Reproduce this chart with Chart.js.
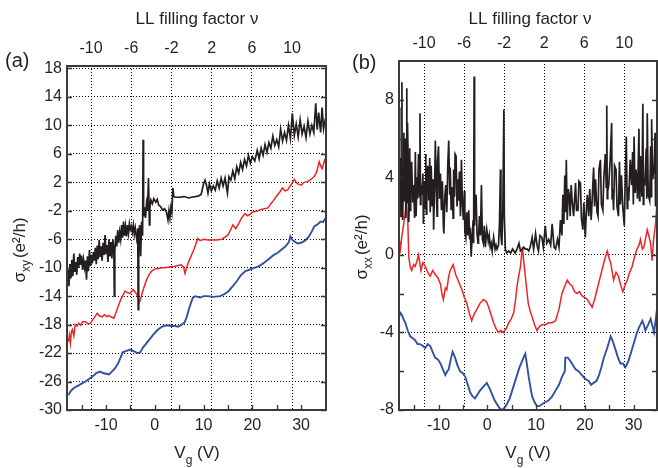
<!DOCTYPE html>
<html>
<head>
<meta charset="utf-8">
<script src="https://cdn.jsdelivr.net/npm/chart.js@4.4.1/dist/chart.umd.min.js"></script>
<style>
  html, body { margin: 0; padding: 0; background: #fff; }
  #wrap { position: relative; width: 658px; height: 468px; overflow: hidden; }
  canvas { position: absolute; top: 0; }
  #cA { left: 0; }
  #cB { left: 329px; }
</style>
</head>
<body>
<div id="wrap">
  <canvas id="cA" width="329" height="468"></canvas>
  <canvas id="cB" width="329" height="468"></canvas>
</div>
<script>
const FONT = '"Liberation Sans", Arial, sans-serif';
const INK = '#231f20';
const RED = '#ee2326';
const BLUE = '#3150a0';

// tick values
const nuTicks = [-10, -6, -2, 2, 6, 10];
const vgTicks = [-15, -10, -5, 0, 5, 10, 15, 20, 25, 30];
const sxyTicks = [-30, -26, -22, -18, -14, -10, -6, -2, 2, 6, 10, 14, 18];
const sxxTicks = [-8, -6, -4, -2, 0, 2, 4, 6, 8];

// panel (a): sigma_xy, [Vg, value]
const blackA = [[-17.7,-10.3],[-17.6,-12.6],[-17.4,-9.5],[-17.2,-11.5],[-17.0,-8.9],[-16.8,-11.2],[-16.6,-8.0],[-16.4,-10.6],[-16.2,-9.2],[-16.0,-11.0],
  [-15.8,-8.5],[-15.6,-10.0],[-15.4,-8.0],[-15.2,-9.6],[-15.0,-8.3],[-14.8,-10.3],[-14.6,-8.9],[-14.4,-10.0],[-14.2,-9.0],[-14.0,-11.7],
  [-13.8,-8.4],[-13.6,-10.5],[-13.4,-7.5],[-13.2,-9.8],[-13.0,-8.2],[-12.8,-9.4],[-12.6,-7.8],[-12.4,-9.0],[-12.2,-7.2],[-12.0,-9.5],
  [-11.8,-6.9],[-11.6,-8.8],[-11.4,-6.1],[-11.2,-8.5],[-11.0,-7.0],[-10.8,-9.0],[-10.6,-6.5],[-10.4,-8.2],[-10.2,-5.4],[-10.0,-8.0],
  [-9.8,-6.8],[-9.6,-9.2],[-9.4,-6.0],[-9.2,-8.4],[-9.0,-6.4],[-8.8,-8.7],[-8.6,-6.0],[-8.4,-7.5],[-8.3,-14.0],[-8.2,-7.8],
  [-8.0,-5.5],[-7.8,-7.0],[-7.6,-4.7],[-7.4,-6.5],[-7.2,-5.0],[-7.0,-6.0],[-6.8,-4.0],[-6.6,-5.8],[-6.4,-3.5],[-6.2,-5.5],
  [-6.0,-4.2],[-5.8,-5.6],[-5.6,-4.0],[-5.4,-5.2],[-5.2,-3.8],[-5.0,-4.6],[-4.8,-4.2],[-4.6,-5.0],[-4.4,-4.0],[-4.2,-5.3],
  [-4.0,-4.4],[-3.8,-5.5],[-3.6,-6.5],[-3.5,-4.5],[-3.4,-15.9],[-3.3,-5.0],[-3.1,-4.0],[-2.9,-8.4],[-2.7,-3.5],[-2.5,-5.5],
  [-2.4,8.0],[-2.3,-2.8],[-2.1,-1.5],[-1.9,-3.0],[-1.7,-1.0],[-1.5,-2.0],[-1.3,2.6],[-1.1,-4.0],[-1.0,-1.5],[-0.8,-0.5],
  [-0.5,-1.0],[-0.2,-0.3],[0.2,-0.8],[0.5,-0.4],[0.8,-1.2],[1.2,-1.4],[1.6,-1.9],[2.0,-1.7],[2.4,-2.2],[2.7,-3.3],
  [2.9,-2.0],[3.1,-3.0],[3.3,-1.5],[3.5,-2.2],[3.7,1.2],[3.9,0.0],[4.2,-0.1],[5.0,-0.1],[6.0,0.0],[7.0,-0.2],
  [7.5,-0.1],[8.3,0.0],[9.0,0.1],[9.5,0.3],[10.0,1.8],[10.3,2.3],[10.6,1.6],[10.9,0.5],[11.2,1.8],[11.6,0.8],
  [12.0,1.5],[12.4,0.9],[12.8,2.2],[13.2,1.2],[13.6,2.6],[14.0,1.5],[14.4,2.6],[14.7,1.3],[14.9,0.5],[15.2,2.8],
  [15.6,2.3],[16.0,3.6],[16.4,2.5],[16.8,4.2],[17.2,3.3],[17.6,4.8],[18.0,3.8],[18.4,5.2],[18.8,4.3],[19.2,5.8],
  [19.6,4.7],[20.0,5.6],[20.5,5.0],[21.0,6.5],[21.4,5.3],[21.8,6.8],[22.2,5.8],[22.6,7.3],[23.0,6.2],[23.4,7.6],
  [23.8,6.8],[24.2,8.5],[24.6,7.2],[25.0,8.0],[25.4,7.0],[25.8,9.5],[26.2,7.8],[26.6,9.0],[27.0,7.9],[27.4,10.0],
  [27.8,8.2],[28.2,11.7],[28.6,8.6],[29.0,10.2],[29.4,8.4],[29.8,10.8],[30.2,8.8],[30.6,9.9],[31.0,8.3],[31.4,10.6],
  [31.8,8.8],[32.2,10.0],[32.6,9.0],[33.0,13.1],[33.3,9.4],[33.6,11.8],[34.0,9.0],[34.3,12.5],[34.6,9.5],[35.0,11.0]];

const redA = [[-17.7,-20.4],[-17.5,-19.5],[-17.3,-20.6],[-17.1,-19.0],[-16.9,-18.7],[-16.6,-19.6],[-16.3,-18.0],[-15.9,-18.2],[-15.6,-17.8],[-15.2,-18.1],
  [-14.8,-17.6],[-14.2,-17.6],[-13.7,-17.9],[-13.2,-17.8],[-12.7,-17.3],[-12.2,-16.8],[-11.8,-16.4],[-11.3,-16.8],[-10.8,-16.9],[-10.3,-16.6],
  [-9.8,-16.9],[-9.5,-16.7],[-9.0,-16.9],[-8.4,-17.1],[-8.0,-16.4],[-7.4,-15.2],[-6.8,-14.2],[-6.1,-13.3],[-5.6,-13.5],[-5.1,-13.6],
  [-4.4,-13.1],[-3.7,-13.7],[-3.4,-14.3],[-3.2,-14.9],[-2.9,-14.4],[-2.6,-13.6],[-2.2,-12.7],[-1.7,-11.7],[-1.2,-11.0],[-0.7,-10.5],
  [0.0,-10.2],[0.7,-10.1],[1.4,-10.0],[2.0,-10.0],[3.0,-9.9],[4.1,-9.8],[4.8,-9.7],[5.4,-9.6],[5.9,-9.9],[6.2,-10.8],
  [6.4,-10.3],[6.8,-9.4],[7.1,-8.9],[7.6,-8.1],[8.1,-7.3],[8.5,-6.5],[8.8,-5.9],[9.3,-6.2],[10.0,-6.0],[10.9,-6.1],
  [11.7,-6.1],[12.7,-6.1],[13.7,-6.0],[14.4,-5.7],[15.0,-5.4],[15.6,-4.6],[16.0,-4.0],[16.6,-4.5],[17.2,-3.8],[17.8,-3.0],
  [18.5,-2.4],[19.0,-2.7],[19.5,-2.5],[20.0,-2.2],[20.5,-2.1],[21.2,-2.0],[21.8,-1.8],[22.5,-1.7],[23.2,-1.6],[23.8,-1.0],
  [24.4,-0.5],[24.9,0.0],[25.6,0.6],[26.2,1.2],[26.7,0.8],[27.2,0.9],[27.9,1.6],[28.6,2.4],[29.2,1.8],[30.0,1.6],
  [30.6,2.0],[31.3,2.1],[32.0,2.4],[32.7,2.8],[33.2,3.5],[33.7,4.9],[34.0,4.3],[34.3,3.9],[34.8,5.1],[35.0,4.8]];

const blueA = [[-17.7,-27.9],[-17.2,-27.3],[-16.6,-26.9],[-15.8,-26.6],[-15.0,-26.3],[-14.2,-26.0],[-13.4,-25.6],[-12.6,-25.2],[-12.0,-24.8],[-11.2,-24.6],
  [-10.6,-24.8],[-10.0,-24.9],[-9.4,-25.0],[-8.8,-24.6],[-8.1,-24.1],[-7.5,-23.4],[-7.0,-22.6],[-6.6,-21.9],[-5.8,-21.7],[-5.0,-21.5],
  [-4.4,-21.7],[-3.6,-22.0],[-3.0,-21.9],[-2.4,-21.2],[-1.7,-20.6],[-1.0,-20.0],[-0.3,-19.4],[0.5,-18.8],[1.4,-18.3],[2.4,-18.1],
  [3.4,-18.2],[4.2,-18.2],[4.8,-18.3],[5.5,-18.0],[6.1,-17.7],[6.6,-16.8],[7.0,-15.8],[7.4,-15.0],[7.8,-14.2],[8.3,-14.0],
  [8.8,-14.1],[9.3,-14.2],[10.0,-14.0],[10.9,-14.0],[12.0,-14.1],[13.4,-14.0],[14.3,-13.7],[15.1,-13.3],[16.0,-12.6],[16.8,-11.9],
  [17.6,-11.1],[18.5,-10.5],[19.3,-10.3],[20.1,-10.1],[21.0,-9.9],[21.8,-9.6],[22.6,-9.2],[23.5,-8.7],[24.4,-8.2],[25.2,-7.9],
  [25.9,-7.5],[26.8,-7.0],[27.5,-6.4],[27.8,-5.6],[28.2,-6.1],[28.6,-6.3],[29.3,-6.6],[30.0,-6.5],[30.8,-6.2],[31.6,-5.6],
  [32.2,-4.9],[32.7,-4.2],[33.4,-3.9],[34.0,-3.5],[34.5,-3.6],[35.0,-3.0]];

// panel (b): sigma_xx, [Vg, value]
const blackB = [[-18.1,4.5],[-18.0,6.1],[-17.95,7.6],[-17.9,2.3],[-17.8,5.0],[-17.7,2.0],[-17.6,3.2],[-17.5,8.9],[-17.45,3.0],[-17.4,4.5],[-17.3,1.8],[-17.2,3.9],[-17.1,6.3],[-17.0,2.8],
  [-16.9,5.2],[-16.8,6.0],[-16.7,1.9],[-16.6,3.0],[-16.5,8.6],[-16.45,2.7],[-16.4,4.0],[-16.3,6.8],[-16.2,4.4],[-16.1,1.7],[-16.0,2.6],[-15.9,5.5],[-15.8,2.3],[-15.7,4.1],[-15.5,4.8],[-15.3,2.7],
  [-15.1,3.6],[-14.9,1.9],[-14.75,5.3],[-14.6,2.0],[-14.4,4.0],[-14.3,2.9],[-14.1,5.2],[-13.9,3.0],[-13.8,7.3],[-13.7,2.6],[-13.6,3.6],[-13.4,3.1],
  [-13.2,4.2],[-13.1,1.6],[-12.9,3.8],[-12.7,2.4],[-12.6,5.2],[-12.5,2.1],[-12.4,3.3],[-12.2,4.6],[-12.0,2.8],[-11.8,5.0],[-11.7,2.2],
  [-11.5,4.6],[-11.3,2.5],[-11.1,3.9],[-11.0,1.3],[-10.8,3.5],[-10.65,5.9],[-10.5,3.9],[-10.3,2.0],[-10.2,4.8],[-10.0,5.6],[-9.8,2.9],
  [-9.6,4.2],[-9.4,2.3],[-9.2,3.8],[-9.0,1.5],[-8.9,1.1],[-8.7,3.0],[-8.5,3.6],[-8.3,2.2],[-8.1,4.6],[-7.9,5.9],
  [-7.7,3.1],[-7.6,4.5],[-7.4,2.3],[-7.2,3.5],[-7.0,1.9],[-6.9,4.4],[-6.7,3.0],[-6.6,5.2],[-6.4,5.1],[-6.2,2.5],
  [-6.0,3.9],[-5.9,2.8],[-5.7,4.3],[-5.5,2.0],[-5.3,4.9],[-5.1,2.6],[-4.9,1.8],[-4.7,3.3],[-4.6,1.2],[-4.4,0.9],
  [-4.2,2.2],[-4.0,1.0],[-3.8,2.3],[-3.6,0.8],[-3.5,1.4],[-3.3,-0.1],[-3.1,1.0],[-2.9,1.8],[-2.8,0.6],[-2.7,9.2],
  [-2.6,1.5],[-2.5,2.4],[-2.3,3.1],[-2.1,1.1],[-1.9,0.6],[-1.8,0.9],[-1.6,2.0],[-1.4,1.0],[-1.2,3.6],[-1.0,0.8],
  [-0.8,0.6],[-0.6,1.5],[-0.4,0.4],[-0.1,1.3],[0.2,0.7],[0.4,1.0],[0.6,0.4],[0.8,0.6],[1.0,0.2],[1.3,0.9],
  [1.6,0.3],[1.8,0.5],[2.0,0.3],[2.3,0.5],[2.5,1.6],[2.7,4.4],[2.8,1.0],[3.0,0.5],[3.2,2.5],[3.4,7.5],
  [3.5,2.0],[3.7,0.3],[4.0,0.1],[4.4,0.2],[4.8,0.1],[5.2,0.3],[5.7,0.1],[6.1,0.3],[6.5,0.6],[6.8,0.2],
  [7.2,0.3],[7.5,0.4],[7.8,0.3],[8.2,0.3],[8.5,0.2],[8.8,0.4],[9.2,0.9],[9.5,0.3],[9.9,1.1],[10.2,0.5],
  [10.5,0.2],[10.8,1.0],[11.2,0.9],[11.5,0.4],[11.9,1.5],[12.2,0.6],[12.6,0.8],[13.0,0.5],[13.3,1.6],[13.7,0.4],
  [14.0,0.3],[14.4,0.8],[14.7,0.4],[15.0,1.8],[15.3,1.0],[15.5,3.1],[15.7,1.6],[15.9,4.1],[16.1,2.2],[16.2,4.9],
  [16.4,1.8],[16.6,3.4],[16.8,3.1],[17.0,2.0],[17.2,3.6],[17.4,2.8],[17.7,2.0],[18.1,3.7],[18.3,2.3],[18.6,2.3],
  [18.8,3.8],[19.1,3.7],[19.3,1.9],[19.6,1.3],[19.8,2.7],[20.1,0.9],[20.3,2.2],[20.5,3.1],[20.8,2.0],[21.0,3.4],
  [21.3,1.8],[21.5,2.8],[21.8,4.5],[22.0,2.5],[22.2,3.9],[22.5,2.2],[22.7,2.0],[22.9,4.4],[23.2,4.9],[23.4,2.6],
  [23.7,2.3],[23.9,4.0],[24.2,5.2],[24.4,3.5],[24.5,7.7],[24.6,2.9],[24.7,3.3],[24.9,3.6],[25.2,4.9],[25.5,6.8],[25.6,2.9],[25.7,3.4],
  [25.9,2.3],[26.1,4.6],[26.4,4.4],[26.6,2.5],[26.9,2.0],[27.1,4.8],[27.3,2.6],[27.5,4.1],[27.8,2.4],[28.1,1.5],[28.3,4.0],
  [28.5,6.1],[28.7,2.4],[28.8,3.5],[29.0,2.8],[29.3,4.9],[29.6,3.6],[29.8,5.3],[29.95,2.6],[30.1,6.1],[30.3,3.2],[30.5,4.4],[30.8,2.9],
  [31.1,6.5],[31.2,2.8],[31.3,4.2],[31.4,5.1],[31.7,3.0],[31.9,7.8],[32.0,2.6],[32.1,3.8],[32.3,3.7],[32.6,5.5],[32.7,2.9],[32.8,7.3],[33.0,3.1],
  [33.3,2.8],[33.5,5.6],[33.6,3.0],[33.7,7.0],[33.9,3.9],[34.2,4.4],[34.4,6.3],[34.5,2.5],[34.7,4.0],[34.8,5.4]];

const redB = [[-18.1,0.9],[-17.8,0.3],[-17.5,1.0],[-17.3,1.3],[-16.9,2.0],[-16.6,2.7],[-16.3,1.8],[-16.1,-0.1],[-15.8,-0.6],[-15.5,-0.8],
  [-15.1,-0.5],[-14.8,-0.6],[-14.4,-0.3],[-14.1,0.0],[-13.6,-0.8],[-13.2,-0.4],[-12.7,-0.6],[-12.2,-0.9],[-11.7,-1.1],[-11.2,-0.8],
  [-10.7,-1.0],[-10.1,-1.2],[-9.6,-1.5],[-9.3,-2.0],[-9.0,-2.3],[-8.6,-1.7],[-8.3,-1.8],[-7.9,-1.1],[-7.6,-0.8],[-7.0,-0.5],
  [-6.5,-1.0],[-6.0,-1.3],[-5.2,-1.8],[-4.7,-2.2],[-4.2,-2.5],[-3.7,-3.0],[-3.2,-3.4],[-2.6,-3.0],[-2.1,-2.8],[-1.5,-2.5],
  [-0.8,-2.3],[-0.2,-2.4],[0.3,-2.7],[0.8,-3.1],[1.3,-3.5],[1.8,-3.8],[2.3,-4.0],[2.8,-3.9],[3.3,-4.0],[3.9,-3.8],
  [4.4,-3.5],[4.9,-3.3],[5.4,-3.0],[5.8,-2.3],[6.1,-1.6],[6.5,-1.0],[6.8,-0.6],[7.2,0.4],[7.5,-0.4],[7.8,-1.1],
  [8.1,-1.8],[8.4,-2.5],[8.8,-2.9],[9.2,-3.2],[9.7,-3.6],[10.2,-3.9],[10.7,-3.7],[11.2,-3.6],[11.9,-3.6],[12.6,-3.5],
  [13.3,-3.5],[14.0,-3.4],[14.7,-2.8],[15.3,-2.0],[15.9,-1.6],[16.4,-1.3],[16.9,-1.5],[17.4,-1.6],[17.9,-1.9],[18.4,-2.0],
  [18.9,-1.9],[19.4,-2.1],[20.0,-2.2],[20.5,-2.3],[21.0,-2.5],[21.5,-2.7],[22.0,-2.3],[22.5,-1.8],[23.0,-1.3],[23.5,-0.8],
  [24.0,-0.3],[24.6,0.2],[25.0,-0.2],[25.3,-0.4],[25.9,-1.3],[26.4,-0.9],[26.9,-1.1],[27.4,-1.6],[27.8,-1.9],[28.2,-1.6],
  [28.7,-1.3],[29.2,-0.9],[29.7,-0.6],[30.2,-0.1],[30.7,0.3],[31.1,0.5],[31.4,0.8],[31.8,0.3],[32.1,0.4],[32.5,0.9],
  [32.8,1.3],[33.2,0.9],[33.5,0.6],[33.8,-0.3],[34.1,0.8],[34.5,1.6],[34.8,2.7]];

const blueB = [[-18.1,-3.2],[-17.8,-3.0],[-17.5,-3.1],[-17.2,-3.3],[-16.8,-3.5],[-16.3,-3.9],[-15.8,-4.2],[-15.3,-4.3],[-14.8,-4.4],[-14.3,-4.6],
  [-13.8,-4.6],[-13.2,-4.7],[-12.7,-4.8],[-12.2,-4.6],[-11.7,-4.7],[-11.2,-5.0],[-10.7,-5.3],[-10.1,-5.4],[-9.6,-5.6],[-9.1,-5.9],
  [-8.6,-6.2],[-8.2,-6.0],[-7.9,-5.9],[-7.5,-5.4],[-7.1,-5.0],[-6.6,-5.3],[-6.1,-5.7],[-5.6,-6.0],[-5.0,-6.1],[-4.5,-6.3],
  [-4.0,-6.7],[-3.5,-7.1],[-3.0,-7.3],[-2.5,-7.4],[-2.0,-7.2],[-1.5,-7.0],[-0.8,-6.8],[-0.1,-6.6],[0.5,-6.9],[1.0,-7.2],
  [1.5,-7.5],[2.0,-7.7],[2.5,-7.9],[3.0,-8.0],[3.5,-7.9],[4.0,-7.7],[4.6,-7.4],[5.1,-7.0],[5.6,-6.6],[6.1,-6.2],
  [6.6,-5.8],[7.1,-5.5],[7.6,-5.2],[7.8,-5.1],[8.1,-5.6],[8.5,-6.3],[8.9,-6.9],[9.2,-7.3],[9.7,-7.6],[10.2,-7.8],
  [10.7,-7.8],[11.2,-7.7],[11.9,-7.6],[12.6,-7.5],[13.3,-7.3],[14.0,-7.0],[14.7,-6.7],[15.3,-6.3],[15.9,-6.0],[16.0,-5.3],
  [16.5,-5.3],[17.1,-5.5],[17.6,-5.7],[18.1,-5.9],[18.7,-6.0],[19.4,-6.2],[20.1,-6.4],[20.8,-6.5],[21.3,-6.7],[21.8,-6.6],
  [22.4,-6.5],[22.9,-6.2],[23.4,-5.8],[23.9,-5.3],[24.6,-4.8],[25.3,-4.2],[25.8,-4.5],[26.3,-4.9],[26.8,-5.3],[27.3,-5.6],
  [27.8,-5.6],[28.3,-5.8],[28.9,-5.5],[29.4,-5.1],[30.0,-4.6],[30.7,-4.0],[31.2,-3.7],[31.8,-3.4],[32.1,-3.6],[32.4,-3.9],
  [33.0,-3.6],[33.5,-3.3],[33.9,-3.7],[34.2,-4.0],[34.5,-3.4],[34.8,-2.8]];

function pts(series) { return series.map(p => ({ x: p[0], y: p[1] })); }
function fixed(list) { return axis => { axis.ticks = list.map(v => ({ value: v })); }; }

const framePlugin = {
  id: 'frame',
  afterDraw(chart, args, o) {
    const ctx = chart.ctx;
    const a = chart.chartArea;
    const sx = chart.scales.x, sy = chart.scales.y;
    ctx.save();
    ctx.strokeStyle = '#333';
    ctx.lineWidth = 1.3;
    ctx.beginPath();
    sx.ticks.forEach(t => {
      const px = Math.round(sx.getPixelForValue(t.value)) + 0.5;
      ctx.moveTo(px, a.bottom); ctx.lineTo(px, a.bottom - 5);
    });
    sy.ticks.forEach(t => {
      const py = Math.round(sy.getPixelForValue(t.value)) + 0.5;
      ctx.moveTo(a.left, py); ctx.lineTo(a.left + 5, py);
      ctx.moveTo(a.right, py); ctx.lineTo(a.right - 5, py);
    });
    ctx.stroke();
    ctx.lineWidth = 2;
    ctx.strokeStyle = '#3a3a3a';
    ctx.strokeRect(a.left, a.top, a.right - a.left, a.bottom - a.top);

    ctx.fillStyle = INK;
    ctx.textBaseline = 'middle';
    // panel tag
    ctx.font = '20px ' + FONT;
    ctx.textAlign = 'left';
    ctx.fillText(o.tag, o.tagX, o.tagY);
    // top title
    ctx.font = '17px ' + FONT;
    ctx.textAlign = 'center';
    ctx.fillText('LL filling factor \u03BD', o.titleX, 19);
    // x title: V_g (V)
    ctx.textAlign = 'left';
    ctx.font = '17px ' + FONT;
    const wV = ctx.measureText('V').width;
    const wRest = ctx.measureText(' (V)').width;
    ctx.font = '12px ' + FONT;
    const wg = ctx.measureText('g').width;
    let x0 = o.xTitleX - (wV + wg + wRest) / 2;
    ctx.font = '17px ' + FONT;
    ctx.fillText('V', x0, 453);
    ctx.font = '12px ' + FONT;
    ctx.fillText('g', x0 + wV, 461);
    ctx.font = '17px ' + FONT;
    ctx.fillText(' (V)', x0 + wV + wg, 453);
    // y title: sigma_sub (e²/h), rotated
    ctx.translate(o.yTitleX, o.yTitleY);
    ctx.rotate(-Math.PI / 2);
    ctx.font = '17px ' + FONT;
    const ws = ctx.measureText('\u03C3').width;
    const wu = ctx.measureText('(e\u00B2/h)').width;
    ctx.font = '12px ' + FONT;
    const wsub = ctx.measureText(o.sub).width;
    let y0 = -(ws + wsub + wu + 2) / 2;
    ctx.font = '17px ' + FONT;
    ctx.fillText('\u03C3', y0, 0);
    ctx.font = '12px ' + FONT;
    ctx.fillText(o.sub, y0 + ws, 7);
    ctx.font = '17px ' + FONT;
    ctx.fillText('(e\u00B2/h)', y0 + ws + wsub + 2, 0);
    ctx.restore();
  }
};

function makePanel(id, p) {
  const tickFont = { family: FONT, size: 16 };
  return new Chart(document.getElementById(id), {
    type: 'line',
    data: {
      datasets: [
        { data: pts(p.black), borderColor: INK, borderWidth: 1.7 },
        { data: pts(p.red), borderColor: RED, borderWidth: 1.5 },
        { data: pts(p.blue), borderColor: BLUE, borderWidth: 1.9 }
      ]
    },
    options: {
      responsive: false,
      animation: false,
      parsing: false,
      elements: { point: { radius: 0 }, line: { tension: 0, fill: false } },
      layout: { padding: { left: 0, right: p.padRight, top: 0, bottom: 0 } },
      plugins: { legend: { display: false }, tooltip: { enabled: false }, frame: p.text },
      scales: {
        x: {
          type: 'linear', position: 'bottom', min: p.vgMin, max: p.vgMax,
          afterBuildTicks: fixed(vgTicks),
          afterFit: s => { s.height = 468 - p.bottom; },
          grid: { display: false, drawTicks: false },
          border: { display: false },
          ticks: { autoSkip: false, maxRotation: 0, font: tickFont, color: INK, padding: 6,
            callback: v => (v % 10 === 0 ? String(v) : '') }
        },
        x2: {
          type: 'linear', position: 'top', min: p.nuMin, max: p.nuMax,
          afterBuildTicks: fixed(nuTicks),
          afterFit: s => { s.height = p.top; },
          grid: { color: '#000', lineWidth: 1, drawTicks: false },
          border: { display: false, dash: [1, 2] },
          ticks: { autoSkip: false, maxRotation: 0, font: tickFont, color: INK, padding: 8 }
        },
        y: {
          type: 'linear', min: p.yMin, max: p.yMax,
          afterBuildTicks: fixed(p.yTicks),
          afterFit: s => { s.width = p.left; },
          grid: { color: p.gridColor, lineWidth: 1, drawTicks: false },
          border: { display: false, dash: [1, 2] },
          ticks: { autoSkip: false, font: tickFont, color: INK, padding: 5, callback: p.yLabel }
        }
      }
    },
    plugins: [framePlugin]
  });
}

makePanel('cA', {
  black: blackA, red: redA, blue: blueA,
  vgMin: -18, vgMax: 35.1, nuMin: -12.39, nuMax: 13.38,
  yMin: -30, yMax: 18.35, yTicks: sxyTicks,
  yLabel: v => String(v),
  gridColor: '#000',
  left: 67, top: 66, bottom: 410, padRight: 3,
  text: { tag: '(a)', tagX: 5, tagY: 61, titleX: 197, xTitleX: 197, yTitleX: 20, yTitleY: 250, sub: 'xy' }
});

makePanel('cB', {
  black: blackB, red: redB, blue: blueB,
  vgMin: -18.1, vgMax: 34.8, nuMin: -12.5, nuMax: 13.27,
  yMin: -8, yMax: 10, yTicks: sxxTicks,
  yLabel: v => (v % 4 === 0 ? String(v) : ''),
  gridColor: ctx => (ctx.tick && (ctx.tick.value === 0 || ctx.tick.value === -4) ? '#000' : 'rgba(0,0,0,0)'),
  left: 70, top: 61, bottom: 410, padRight: 1,
  text: { tag: '(b)', tagX: 23, tagY: 63, titleX: 201, xTitleX: 199, yTitleX: 33, yTitleY: 247, sub: 'xx' }
});
</script>
</body>
</html>
